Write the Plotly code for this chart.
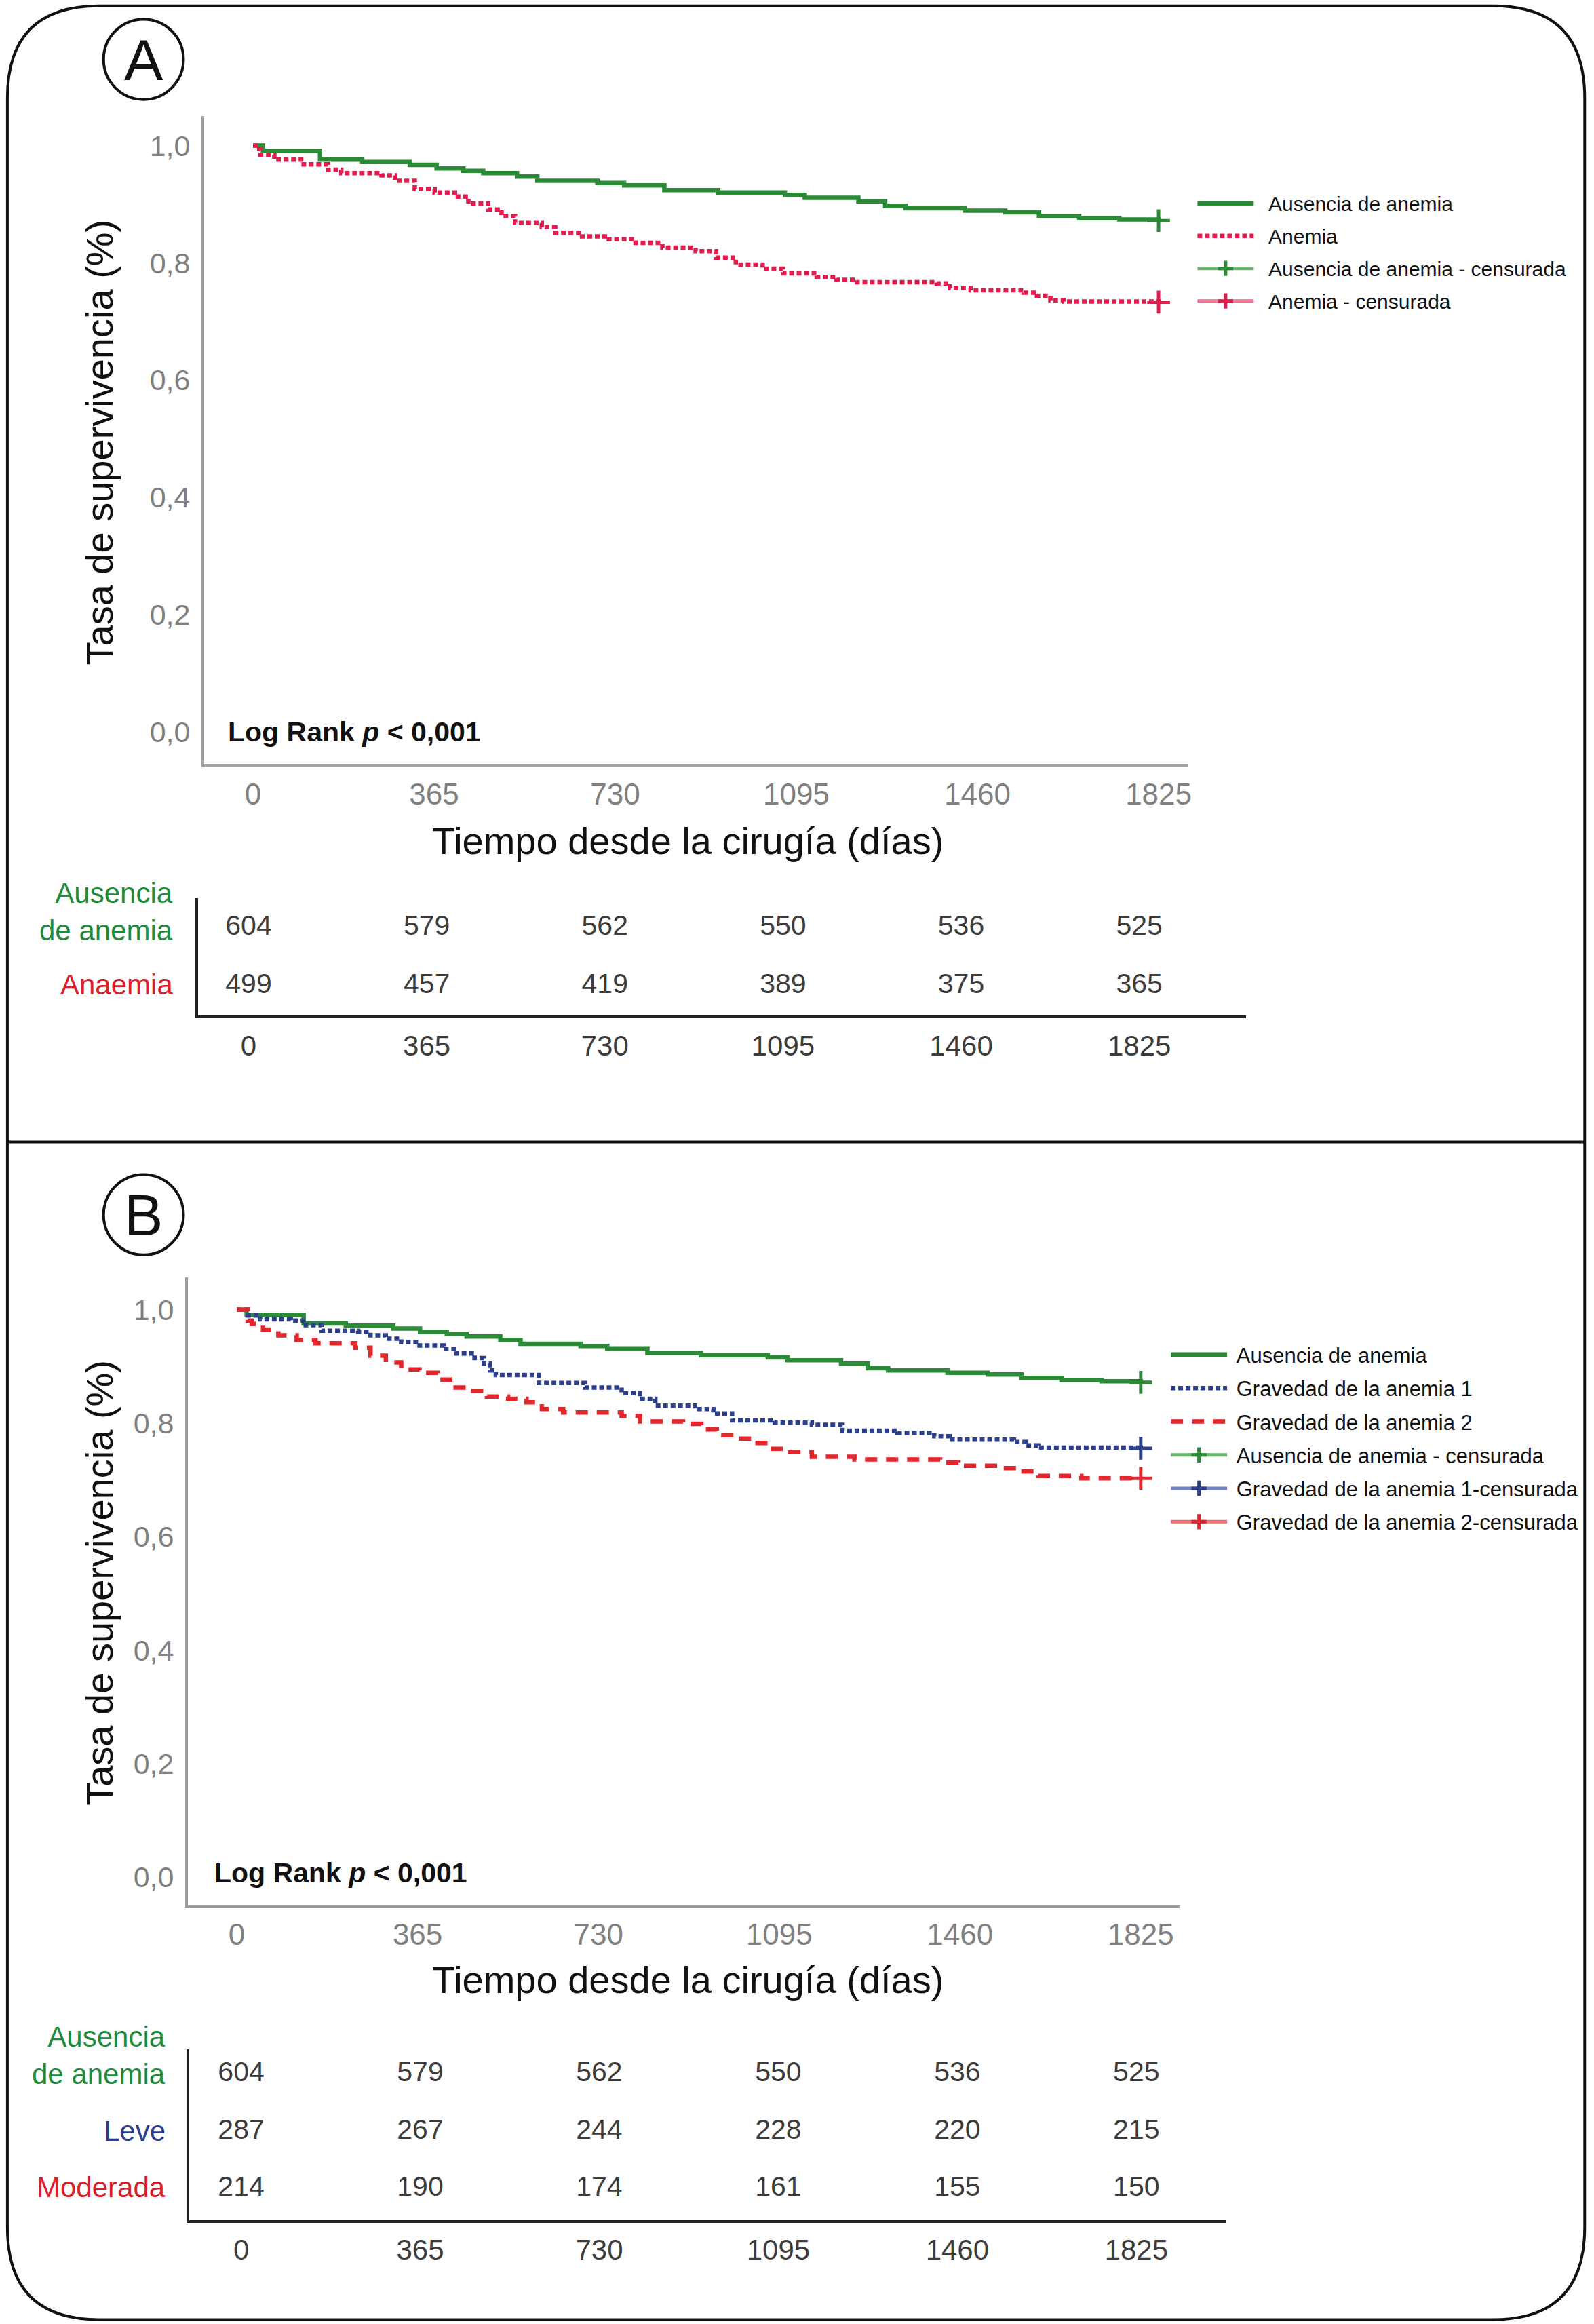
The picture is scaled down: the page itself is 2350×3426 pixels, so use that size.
import plotly.graph_objects as go

# ---------------- data ----------------
days_ticks = [0, 365, 730, 1095, 1460, 1825]
y_ticks = [0, 0.2, 0.4, 0.6, 0.8, 1.0]
y_ticktext = ["0,0", "0,2", "0,4", "0,6", "0,8", "1,0"]

# Panel A / B : Ausencia de anemia (same group in both panels)
t_ausencia = [0, 20, 135, 220, 316, 370, 424, 464, 532, 573, 694, 748, 829, 937, 1072,
              1112, 1220, 1274, 1315, 1435, 1516, 1584, 1665, 1746, 1825]
s_ausencia = [1.0, 0.991, 0.976, 0.972, 0.967, 0.961, 0.957, 0.953, 0.947, 0.940, 0.936,
              0.932, 0.924, 0.920, 0.916, 0.911, 0.905, 0.897, 0.893, 0.889, 0.886, 0.880,
              0.876, 0.874, 0.872]

# Panel A : Anemia
t_anemia = [0, 5, 15, 43, 97, 151, 178, 259, 286, 326, 366, 407, 434, 474, 501, 528, 582,
            609, 663, 717, 771, 825, 892, 933, 973, 1027, 1068, 1136, 1176, 1217, 1378, 1405,
            1446, 1553, 1580, 1607, 1634, 1825]
s_anemia = [1.0, 0.994, 0.984, 0.976, 0.968, 0.959, 0.953, 0.949, 0.940, 0.926, 0.920, 0.913,
            0.901, 0.891, 0.880, 0.868, 0.861, 0.851, 0.845, 0.840, 0.834, 0.826, 0.820, 0.809,
            0.797, 0.790, 0.782, 0.776, 0.771, 0.767, 0.765, 0.757, 0.753, 0.749, 0.744, 0.736,
            0.734, 0.733]

# Panel B : Gravedad de la anemia 1 (Leve)
t_grav1 = [0, 22, 47, 109, 134, 171, 245, 270, 301, 332, 369, 418, 443, 480, 499, 511, 523,
           610, 703, 777, 814, 845, 925, 962, 1000, 1086, 1161, 1223, 1334, 1408, 1439, 1569,
           1593, 1618, 1825]
s_grav1 = [1.0, 0.990, 0.983, 0.981, 0.973, 0.963, 0.961, 0.955, 0.949, 0.943, 0.937, 0.931,
           0.923, 0.915, 0.905, 0.893, 0.885, 0.871, 0.863, 0.853, 0.843, 0.831, 0.825, 0.817,
           0.805, 0.801, 0.797, 0.787, 0.783, 0.777, 0.771, 0.767, 0.761, 0.757, 0.756]

# Panel B : Gravedad de la anemia 2 (Moderada)
t_grav2 = [0, 22, 30, 53, 84, 121, 159, 239, 270, 301, 332, 369, 406, 431, 468, 505, 548, 585,
           616, 659, 777, 814, 901, 938, 969, 1006, 1043, 1074, 1117, 1161, 1247, 1420, 1457,
           1544, 1581, 1618, 1705, 1825]
s_grav2 = [1.0, 0.981, 0.975, 0.965, 0.955, 0.947, 0.941, 0.933, 0.919, 0.907, 0.895, 0.889,
           0.877, 0.863, 0.857, 0.847, 0.843, 0.837, 0.825, 0.819, 0.813, 0.803, 0.799, 0.789,
           0.779, 0.773, 0.765, 0.755, 0.749, 0.741, 0.736, 0.731, 0.725, 0.721, 0.715, 0.707,
           0.703, 0.703]

# Numbers at risk
risk_A_ausencia = [604, 579, 562, 550, 536, 525]
risk_A_anemia = [499, 457, 419, 389, 375, 365]
risk_B_ausencia = [604, 579, 562, 550, 536, 525]
risk_B_leve = [287, 267, 244, 228, 220, 215]
risk_B_moderada = [214, 190, 174, 161, 155, 150]

# ---------------- styling helpers ----------------
W, H = 2350, 3426
RW, RH = 1075.0, 1565.0  # reference grid used for placement


def px(x):
    return x / RW


def py(y):
    return 1 - y / RH


GREEN = "#2a8a36"
GREEN_L = "#6cb46f"
RED_A = "#e31c4e"
RED_AL = "#ee7393"
BLUE = "#2b3f8c"
BLUE_L = "#6f82bd"
RED_B = "#e3262c"
RED_BL = "#ec6e70"
TXT_GREEN = "#1e8a3c"
TXT_RED = "#d8202a"
TXT_BLUE = "#2a3d8f"
FONT = "Liberation Sans, Arial, sans-serif"
TICKGRAY = "#808080"
AXGRAY = "#a0a0a0"

fig = go.Figure()


def km(x, y, name, color, dash, width, xa, ya, leg, grp):
    fig.add_trace(go.Scatter(x=x, y=y, mode="lines", line=dict(color=color, width=width, dash=dash, shape="hv"),
                             name=name, xaxis=xa, yaxis=ya, legend=leg, legendgroup=grp,
                             hoverinfo="skip"))


def cens(x, y, name, color, lcolor, xa, ya, leg, grp):
    fig.add_trace(go.Scatter(x=[x], y=[y], mode="lines+markers", name=name,
                             line=dict(color=lcolor, width=5),
                             marker=dict(symbol="cross-thin", size=24, color=color,
                                         line=dict(width=5, color=color)),
                             xaxis=xa, yaxis=ya, legend=leg, legendgroup=grp, hoverinfo="skip"))


GAP_A = "&nbsp;&nbsp;"
GAP_B = "&nbsp;"

# Panel A
km(t_ausencia, s_ausencia, GAP_A + "Ausencia de anemia", GREEN, "solid", 6.5, "x", "y", "legend", "a1")
km(t_anemia, s_anemia, GAP_A + "Anemia", RED_A, "7px,4px", 6.5, "x", "y", "legend", "a2")
cens(t_ausencia[-1], s_ausencia[-1], GAP_A + "Ausencia de anemia - censurada", GREEN, GREEN_L, "x", "y", "legend", "a3")
cens(t_anemia[-1], s_anemia[-1], GAP_A + "Anemia - censurada", RED_A, RED_AL, "x", "y", "legend", "a4")

# Panel B
km(t_ausencia, s_ausencia, GAP_B + "Ausencia de anemia", GREEN, "solid", 6.5, "x2", "y2", "legend2", "b1")
km(t_grav1, s_grav1, GAP_B + "Gravedad de la anemia 1", BLUE, "7px,4px", 6.5, "x2", "y2", "legend2", "b2")
km(t_grav2, s_grav2, GAP_B + "Gravedad de la anemia 2", RED_B, "18px,13px", 6.5, "x2", "y2", "legend2", "b3")
cens(t_ausencia[-1], s_ausencia[-1], GAP_B + "Ausencia de anemia - censurada", GREEN, GREEN_L, "x2", "y2", "legend2", "b4")
cens(t_grav1[-1], s_grav1[-1], GAP_B + "Gravedad de la anemia 1-censurada", BLUE, BLUE_L, "x2", "y2", "legend2", "b5")
cens(t_grav2[-1], s_grav2[-1], GAP_B + "Gravedad de la anemia 2-censurada", RED_B, RED_BL, "x2", "y2", "legend2", "b6")

# Risk tables (text traces)
def risk_row(vals, row, xa, ya):
    fig.add_trace(go.Scatter(x=days_ticks, y=[row] * len(vals), mode="text",
                             text=[str(v) for v in vals],
                             textfont=dict(family=FONT, size=41, color="#3c3c3c"),
                             xaxis=xa, yaxis=ya, showlegend=False, hoverinfo="skip"))


risk_row(risk_A_ausencia, 1, "x3", "y3")
risk_row(risk_A_anemia, 0, "x3", "y3")
risk_row(risk_B_ausencia, 2, "x4", "y4")
risk_row(risk_B_leve, 1, "x4", "y4")
risk_row(risk_B_moderada, 0, "x4", "y4")

# ---------------- axes ----------------
km_x = dict(tickvals=days_ticks, ticktext=[str(d) for d in days_ticks], showline=True,
            linecolor=AXGRAY, linewidth=4, ticks="", showgrid=False, zeroline=False,
            tickfont=dict(family=FONT, size=44, color=TICKGRAY), ticklabelstandoff=2, fixedrange=True)
km_y = dict(tickvals=y_ticks, ticktext=y_ticktext, showline=True, linecolor=AXGRAY, linewidth=4,
            ticks="", showgrid=False, zeroline=False,
            tickfont=dict(family=FONT, size=43, color=TICKGRAY), ticklabelstandoff=8, fixedrange=True)
tab_x = dict(tickvals=days_ticks, ticktext=[str(d) for d in days_ticks], showline=True,
             linecolor="#222222", linewidth=4, ticks="", showgrid=False, zeroline=False,
             tickfont=dict(family=FONT, size=42, color="#3c3c3c"), ticklabelstandoff=4, fixedrange=True)
tab_y = dict(showline=True, linecolor="#222222", linewidth=4, ticks="", showgrid=False,
             zeroline=False, showticklabels=False, fixedrange=True)

fig.update_layout(
    xaxis=dict(km_x, domain=[px(138), px(803)], range=[-98.4, 1884.6], anchor="y"),
    yaxis=dict(km_y, domain=[py(515), py(78)], range=[-0.0557, 1.0506], anchor="x"),
    xaxis2=dict(km_x, domain=[px(127), px(797)], range=[-98.6, 1902.7], anchor="y2"),
    yaxis2=dict(km_y, domain=[py(1283), py(860)], range=[-0.0497, 1.0576], anchor="x2"),
    xaxis3=dict(tab_x, domain=[px(134), px(842)], range=[-103.1, 2043.3], anchor="y3"),
    yaxis3=dict(tab_y, domain=[py(684), py(605)], range=[-0.513, 1.513], anchor="x3"),
    xaxis4=dict(tab_x, domain=[px(128), px(829)], range=[-105.6, 2009.0], anchor="y4"),
    yaxis4=dict(tab_y, domain=[py(1495), py(1380)], range=[-0.545, 2.44], anchor="x4"),
)

legend_common = dict(xanchor="left", yanchor="top", bgcolor="rgba(0,0,0,0)", borderwidth=0,
                     font=dict(family=FONT, size=31, color="#111111"), itemwidth=83,
                     tracegroupgap=6, itemclick=False, itemdoubleclick=False)
fig.update_layout(
    legend=dict(legend_common, x=px(807), y=py(125), font=dict(family=FONT, size=30, color="#111111")),
    legend2=dict(legend_common, x=px(789), y=py(900)),
)

# ---------------- annotations ----------------
ann = []


def txt(x, y, text, size, color="#111111", xanchor="center", yanchor="middle", angle=0, align="center"):
    ann.append(dict(x=x, y=y, xref="paper", yref="paper", text=text, showarrow=False,
                    font=dict(family=FONT, size=size, color=color), xanchor=xanchor,
                    yanchor=yanchor, textangle=angle, align=align))


# titles
txt(px(67), py(298), "Tasa de supervivencia (%)", 56, angle=-90)
txt(px(465), py(566), "Tiempo desde la cirugía (días)", 56)
txt(px(67), py(1066), "Tasa de supervivencia (%)", 56, angle=-90)
txt(px(465), py(1333), "Tiempo desde la cirugía (días)", 56)
# log rank
txt(px(153), py(493), "<b>Log Rank <i>p</i> &lt; 0,001</b>", 41, xanchor="left")
txt(px(144), py(1261), "<b>Log Rank <i>p</i> &lt; 0,001</b>", 41, xanchor="left")
# panel letters
txt(px(97), py(40), "A", 86)
txt(px(97), py(818), "B", 86)
# risk table row labels
txt(px(118), py(614), "Ausencia<br>de anemia", 42, TXT_GREEN, xanchor="right", align="right")
txt(px(118), py(663), "Anaemia", 42, TXT_RED, xanchor="right", align="right")
txt(px(113), py(1384), "Ausencia<br>de anemia", 42, TXT_GREEN, xanchor="right", align="right")
txt(px(113), py(1435), "Leve", 42, TXT_BLUE, xanchor="right", align="right")
txt(px(113), py(1473), "Moderada", 42, TXT_RED, xanchor="right", align="right")

# ---------------- shapes ----------------
L, R, T, B = px(5), px(1071), py(4), py(1562)
rx, ry = 62 / RW, 62 / RH
border = (f"M {L},{T - ry} Q {L},{T} {L + rx},{T} L {R - rx},{T} Q {R},{T} {R},{T - ry} "
          f"L {R},{B + ry} Q {R},{B} {R - rx},{B} L {L + rx},{B} Q {L},{B} {L},{B + ry} Z")
shapes = [
    dict(type="path", path=border, xref="paper", yref="paper", line=dict(color="#111111", width=4)),
    dict(type="line", x0=L, x1=R, y0=py(769), y1=py(769), xref="paper", yref="paper",
         line=dict(color="#111111", width=4)),
    dict(type="circle", x0=px(70), x1=px(124), y0=py(67), y1=py(13), xref="paper", yref="paper",
         line=dict(color="#111111", width=4)),
    dict(type="circle", x0=px(70), x1=px(124), y0=py(845), y1=py(791), xref="paper", yref="paper",
         line=dict(color="#111111", width=4)),
]

fig.update_layout(
    width=W, height=H, margin=dict(l=0, r=0, t=0, b=0),
    paper_bgcolor="white", plot_bgcolor="white",
    font=dict(family=FONT),
    annotations=ann, shapes=shapes, showlegend=True,
)

fig.write_html("out.html", config={"displayModeBar": False, "staticPlot": True},
               post_script="document.body.style.margin='0px';")
